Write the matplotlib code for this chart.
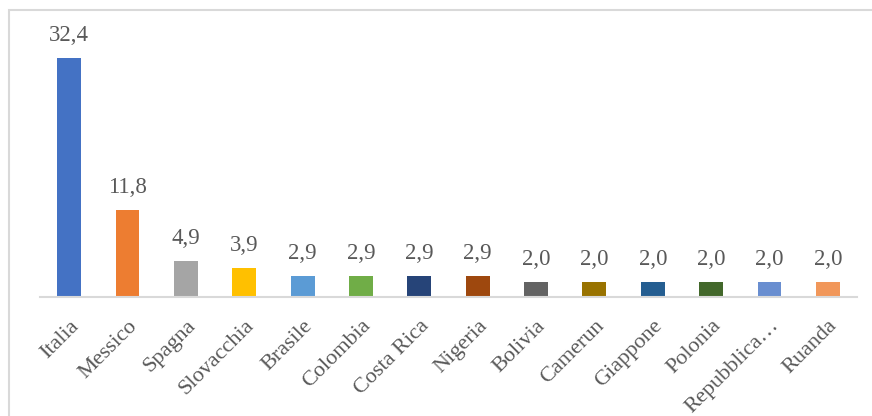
import matplotlib
matplotlib.use("Agg")
import matplotlib.pyplot as plt
from matplotlib.patches import Rectangle

paesi = ["Italia", "Messico", "Spagna", "Slovacchia", "Brasile", "Colombia",
         "Costa Rica", "Nigeria", "Bolivia", "Camerun", "Giappone", "Polonia",
         "Repubblica…", "Ruanda"]
valori = [32.4, 11.8, 4.9, 3.9, 2.9, 2.9, 2.9, 2.9, 2.0, 2.0, 2.0, 2.0, 2.0, 2.0]
colori = ["#4472C4", "#ED7D31", "#A5A5A5", "#FFC000", "#5B9BD5", "#70AD47",
          "#264478", "#9E480E", "#636363", "#997300", "#255E91", "#43682B",
          "#698ED0", "#F1975A"]

testo = "#595959"
plt.rcParams['font.family'] = ['Liberation Serif', 'DejaVu Serif']

fig = plt.figure(figsize=(8.72, 4.16), dpi=100)
ax = fig.add_axes([40 / 872, (416 - 297) / 416, 817 / 872, 258 / 416])

x = range(len(paesi))
bars = ax.bar(x, valori, width=0.41, color=colori, zorder=2)
for b, v in zip(bars, valori):
    ax.text(b.get_x() + b.get_width() / 2, v + 1.6, f"{v:.1f}".replace(".", ","),
            ha="center", va="bottom", fontsize=16.5, color=testo)

ax.set_xlim(-0.5, len(paesi) - 0.5)
ax.set_ylim(0, 35)
ax.set_yticks([])
ax.set_xticks(list(x))
ax.set_xticklabels(paesi, rotation=45, ha="right", rotation_mode="anchor",
                   fontsize=16, color=testo)
ax.tick_params(axis="x", length=0, pad=14)
for s in ["top", "right", "left"]:
    ax.spines[s].set_visible(False)
ax.spines["bottom"].set_color("#D9D9D9")
ax.spines["bottom"].set_linewidth(1.5)

fig.patches.append(Rectangle((8.5 / 872, -0.1), 1.2, (416 - 9.5) / 416 + 0.1,
                             transform=fig.transFigure, fill=False,
                             edgecolor="#D9D9D9", linewidth=1.5))

fig.savefig("out.png", dpi=100)
